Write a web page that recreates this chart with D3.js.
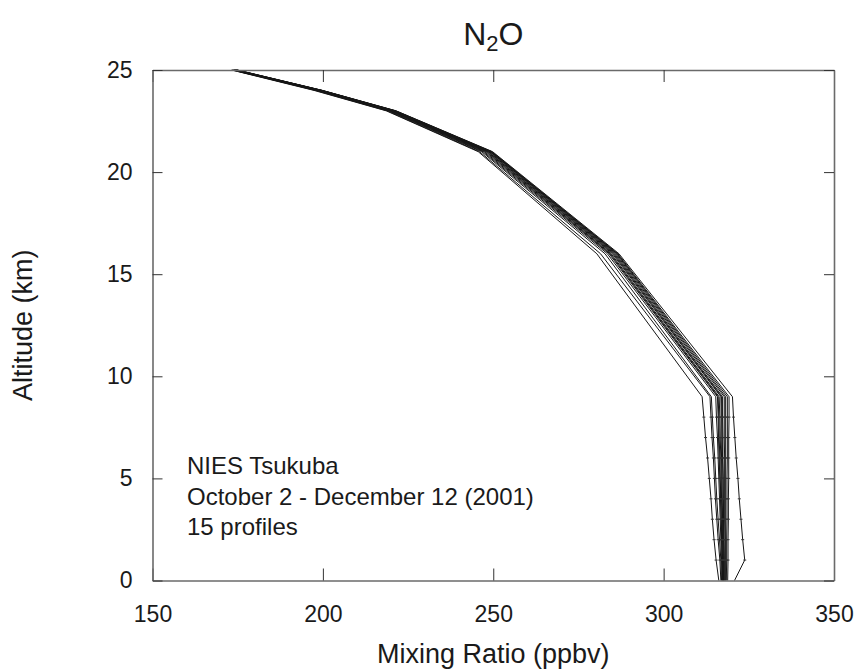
<!DOCTYPE html>
<html>
<head>
<meta charset="utf-8">
<script src="https://cdn.jsdelivr.net/npm/d3@7"></script>
<style>
  html, body { margin: 0; padding: 0; background: #fff; }
  svg { display: block; font-family: "Liberation Sans", Arial, Helvetica, sans-serif; }
</style>
</head>
<body>
<svg id="chart" width="854" height="669"></svg>
<script>
// ---- Data ----
const altitudes = [0, 1, 2, 3, 4, 5, 6, 7, 8, 9, 16, 21, 23, 24, 25];
const p01 = [316.2, 315.4, 314.8, 314.3, 313.9, 313.4, 312.9, 312.3, 311.8, 311.3, 280.4, 245.6, 218.6, 197.4, 173.2];
const p02 = [316.8, 316.5, 316.0, 315.6, 315.2, 314.9, 314.6, 314.2, 313.9, 313.6, 281.5, 246.0, 218.9, 197.8, 173.4];
const p03 = [317.0, 316.8, 316.4, 316.0, 315.6, 315.3, 315.0, 314.6, 314.3, 314.0, 282.8, 246.6, 219.3, 198.1, 173.6];
const p04 = [317.2, 317.0, 316.8, 316.6, 316.4, 316.2, 316.0, 315.8, 315.5, 315.3, 283.5, 247.0, 219.6, 198.4, 173.8];
const p05 = [317.4, 317.3, 317.1, 316.9, 316.7, 316.5, 316.3, 316.1, 316.0, 315.8, 284.0, 247.4, 219.9, 198.6, 173.9];
const p06 = [317.3, 317.2, 317.0, 316.9, 316.8, 316.6, 316.5, 316.3, 316.2, 316.0, 284.3, 247.8, 220.1, 198.8, 174.0];
const p07 = [317.6, 317.5, 317.3, 317.2, 317.0, 316.9, 316.8, 316.6, 316.5, 316.3, 284.6, 248.1, 220.3, 199.0, 174.1];
const p08 = [317.5, 317.5, 317.4, 317.3, 317.2, 317.1, 317.0, 316.9, 316.9, 316.8, 285.0, 248.4, 220.5, 199.1, 174.2];
const p09 = [317.8, 317.8, 317.7, 317.6, 317.5, 317.4, 317.3, 317.2, 317.1, 317.0, 285.3, 248.6, 220.7, 199.3, 174.3];
const p10 = [317.7, 317.7, 317.6, 317.6, 317.5, 317.5, 317.4, 317.4, 317.3, 317.3, 285.6, 248.9, 220.9, 199.4, 174.4];
const p11 = [318.0, 318.0, 318.0, 317.9, 317.9, 317.9, 317.9, 317.8, 317.8, 317.8, 285.9, 249.1, 221.0, 199.5, 174.5];
const p12 = [318.2, 318.2, 318.2, 318.2, 318.2, 318.2, 318.2, 318.2, 318.2, 318.2, 286.2, 249.3, 221.1, 199.6, 174.6];
const p13 = [318.4, 318.5, 318.5, 318.6, 318.6, 318.6, 318.7, 318.7, 318.7, 318.7, 286.4, 249.4, 221.2, 199.7, 174.7];
const p14 = [318.8, 318.9, 318.9, 319.0, 319.0, 319.1, 319.1, 319.1, 319.2, 319.2, 286.6, 249.6, 221.4, 199.8, 174.8];
const p15 = [320.8, 323.8, 323.2, 322.7, 322.2, 321.8, 321.3, 320.9, 320.5, 320.2, 286.9, 249.8, 221.5, 199.9, 174.9];
const profiles = [p01, p02, p03, p04, p05, p06, p07, p08, p09, p10, p11, p12, p13, p14, p15];
// levels where the small horizontal point markers are visible
const markerAltitudes = [1, 2, 3, 4, 5, 6, 7, 8];

const xTicks = [150, 200, 250, 300, 350];
const yTicks = [0, 5, 10, 15, 20, 25];
const xDomain = [150, 350];
const yDomain = [0, 25];
const titleMain = "N";
const titleSub = "2";
const titleEnd = "O";
const xTitle = "Mixing Ratio (ppbv)";
const yTitle = "Altitude (km)";
const notes = ["NIES Tsukuba", "October 2 - December 12 (2001)", "15 profiles"];

// ---- Layout ----
const margin = { left: 152.5, right: 854 - 834, top: 70, bottom: 669 - 580.5 };
const W = 854 - margin.left - margin.right;
const H = 669 - margin.top - margin.bottom;

const svg = d3.select("#chart");
const g = svg.append("g").attr("transform", `translate(${margin.left},${margin.top})`);

const x = d3.scaleLinear().domain(xDomain).range([0, W]);
const y = d3.scaleLinear().domain(yDomain).range([H, 0]);

// profiles
const line = d3.line()
  .x(d => x(d[0]))
  .y(d => y(d[1]));

const series = profiles.map(p => p.map((v, i) => [v, altitudes[i]]));

g.append("g").attr("class", "profiles")
  .selectAll("path")
  .data(series)
  .join("path")
  .attr("d", line)
  .attr("fill", "none")
  .attr("stroke", "#161616")
  .attr("stroke-width", 1)
  .attr("stroke-linejoin", "miter");

// small horizontal dash markers at the lower levels
const markerPts = series.flatMap(s => s.filter(d => markerAltitudes.includes(d[1])));
g.append("g").attr("class", "markers")
  .selectAll("line")
  .data(markerPts)
  .join("line")
  .attr("x1", d => x(d[0]) - 1.5)
  .attr("x2", d => x(d[0]) + 1.5)
  .attr("y1", d => y(d[1]))
  .attr("y2", d => y(d[1]))
  .attr("stroke", "#333")
  .attr("stroke-width", 1);

// axes
const tickFont = 23;
const axisColor = "#6a6a6a";

function styleAxis(sel) {
  sel.select(".domain").attr("stroke", axisColor).attr("stroke-width", 1.6);
  sel.selectAll(".tick line").attr("stroke", "#333").attr("stroke-width", 1);
  sel.selectAll(".tick text").attr("fill", "#1a1a1a").attr("font-size", tickFont)
    .attr("font-family", "Liberation Sans, Arial, sans-serif");
}

g.append("g").attr("transform", `translate(0,${H})`)
  .call(d3.axisBottom(x).tickValues(xTicks).tickFormat(d3.format("d")).tickSizeInner(-12).tickSizeOuter(0).tickPadding(25))
  .call(styleAxis);

g.append("g")
  .call(d3.axisTop(x).tickValues(xTicks).tickFormat("").tickSizeInner(-12).tickSizeOuter(0))
  .call(styleAxis);

g.append("g")
  .call(d3.axisLeft(y).tickValues(yTicks).tickFormat(d3.format("d")).tickSizeInner(-10).tickSizeOuter(0).tickPadding(20))
  .call(styleAxis);

g.append("g").attr("transform", `translate(${W},0)`)
  .call(d3.axisRight(y).tickValues(yTicks).tickFormat("").tickSizeInner(-10).tickSizeOuter(0))
  .call(styleAxis);

// Title
const title = svg.append("text")
  .attr("x", margin.left + W / 2)
  .attr("y", 45)
  .attr("text-anchor", "middle")
  .attr("font-size", 32)
  .attr("fill", "#1a1a1a");
title.append("tspan").text(titleMain);
title.append("tspan").attr("font-size", 22).attr("dy", 6).text(titleSub);
title.append("tspan").attr("dy", -6).text(titleEnd);

// Axis titles
svg.append("text")
  .attr("x", margin.left + W / 2)
  .attr("y", 663)
  .attr("text-anchor", "middle")
  .attr("font-size", 27)
  .attr("fill", "#1a1a1a")
  .text(xTitle);

svg.append("text")
  .attr("transform", "rotate(-90)")
  .attr("x", -(margin.top + H / 2))
  .attr("y", 32)
  .attr("text-anchor", "middle")
  .attr("font-size", 27)
  .attr("fill", "#1a1a1a")
  .text(yTitle);

// Annotation
svg.append("g").selectAll("text")
  .data(notes)
  .join("text")
  .attr("x", 187)
  .attr("y", (d, i) => 474 + i * 30.5)
  .attr("font-size", 24)
  .attr("fill", "#1a1a1a")
  .text(d => d);
</script>
</body>
</html>
